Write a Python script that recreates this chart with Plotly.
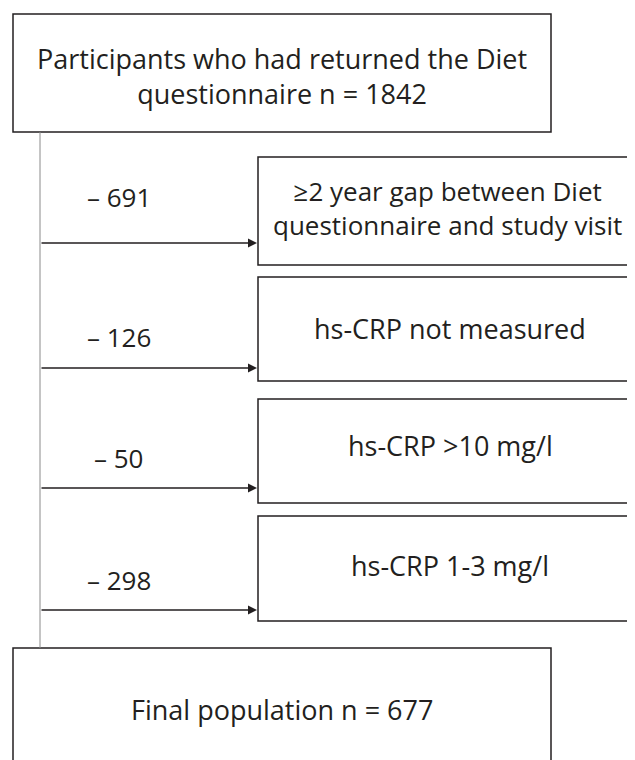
import plotly.graph_objects as go

# Data
start_label = "Participants who had returned the Diet<br>questionnaire n = 1842"
exclusion_labels = [
    "\u22652 year gap between Diet<br>questionnaire and study visit",
    "hs-CRP not measured",
    "hs-CRP >10 mg/l",
    "hs-CRP 1-3 mg/l",
]
exclusion_counts = [691, 126, 50, 298]
final_label = "Final population n = 677"

# Layout (pixel coordinates in the page, y downward)
W, H = 635, 760
PAD = 8  # default body margin of the page
FONT = "Open Sans, Lato, sans-serif"
FS = 27
TXT = "#231f20"
box_tops = [157, 277, 399, 516]
box_bottoms = [265, 381, 503, 621]
text_x = [447, 450, 450, 450]
text_y = [208, 328, 445, 565]
text_size = [26, 27, 27, 27]
arrow_y = [243, 368, 488, 610]
label_y = [197, 337, 458, 580]

fig = go.Figure()
fig.add_trace(go.Scatter(x=[PAD, W], y=[PAD, H], mode="markers", marker=dict(opacity=0),
                         hoverinfo="skip", showlegend=False))

shapes = []
annotations = []

# top box
shapes.append(dict(type="rect", x0=13, x1=551, y0=14, y1=132, line=dict(color=TXT, width=1.5),
                   fillcolor="white", layer="below"))
annotations.append(dict(x=282, y=76, text=start_label, showarrow=False,
                        font=dict(family=FONT, size=FS, color=TXT), align="center"))

# vertical line
shapes.append(dict(type="line", x0=40, x1=40, y0=132, y1=648, line=dict(color="#8a8a8a", width=1)))

for lab, cnt, t0, t1, tx, ty, ts, ay, ly in zip(exclusion_labels, exclusion_counts, box_tops,
                                                box_bottoms, text_x, text_y, text_size,
                                                arrow_y, label_y):
    shapes.append(dict(type="rect", x0=258, x1=645, y0=t0, y1=t1, line=dict(color=TXT, width=1.5),
                       fillcolor="white", layer="below"))
    annotations.append(dict(x=tx, y=ty, text=lab, showarrow=False,
                            font=dict(family=FONT, size=ts, color=TXT), align="center"))
    annotations.append(dict(x=119, y=ly, text="\u2013 " + str(cnt), showarrow=False,
                            font=dict(family=FONT, size=FS - 1, color=TXT)))
    annotations.append(dict(x=257, y=ay, ax=40, ay=ay, xref="x", yref="y", axref="x", ayref="y",
                            text="", showarrow=True, arrowhead=2, arrowsize=1.2, arrowwidth=1.5,
                            arrowcolor=TXT, standoff=0, startstandoff=0))

# bottom box
shapes.append(dict(type="rect", x0=13, x1=551, y0=648, y1=770, line=dict(color=TXT, width=1.5),
                   fillcolor="white", layer="below"))
annotations.append(dict(x=282, y=709, text=final_label, showarrow=False,
                        font=dict(family=FONT, size=FS, color=TXT)))

fig.update_layout(
    width=W - PAD, height=H - PAD,
    margin=dict(l=0, r=0, t=0, b=0),
    paper_bgcolor="white", plot_bgcolor="white",
    xaxis=dict(range=[PAD, W], visible=False, fixedrange=True),
    yaxis=dict(range=[H, PAD], visible=False, fixedrange=True),
    shapes=shapes, annotations=annotations,
    showlegend=False,
)
fig.write_html("out.html")
